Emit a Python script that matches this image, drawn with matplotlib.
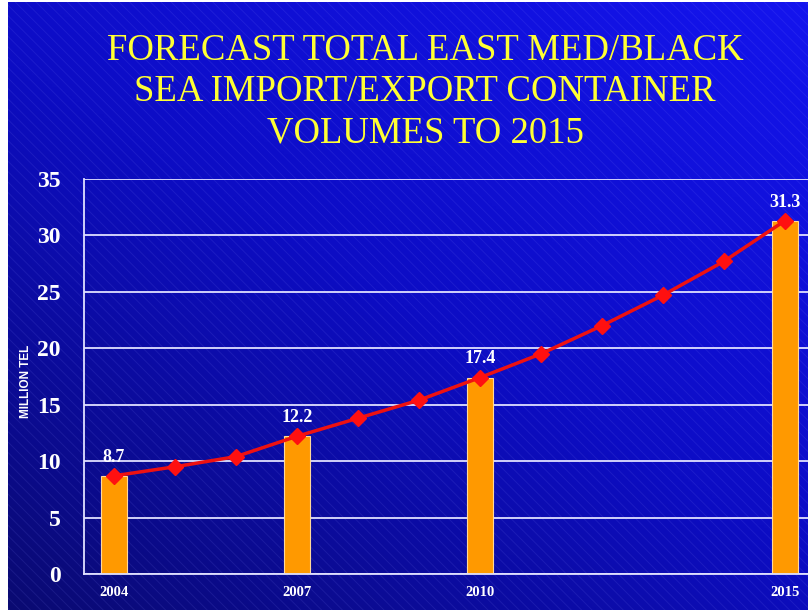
import numpy as np
import matplotlib
matplotlib.use('Agg')
import matplotlib.pyplot as plt
from matplotlib.colors import LinearSegmentedColormap

# dados
anos = [2004, 2005, 2006, 2007, 2008, 2009, 2010, 2011, 2012, 2013, 2014, 2015]
valores_linha = [8.7, 9.5, 10.4, 12.2, 13.8, 15.4, 17.4, 19.5, 22.0, 24.7, 27.7, 31.3]
anos_barras = [2004, 2007, 2010, 2015]
valores_barras = [8.7, 12.2, 17.4, 31.3]
rotulos_barras = ['8.7', '12.2', '17.4', '31.3']
titulo = 'FORECAST TOTAL EAST MED/BLACK\nSEA IMPORT/EXPORT CONTAINER\nVOLUMES TO 2015'

serif = ['Liberation Serif', 'DejaVu Serif']

fig = plt.figure(figsize=(8.08, 6.10), dpi=100)
fig.patch.set_facecolor('white')

# fundo azul com gradiente e listras diagonais
bg = fig.add_axes([8 / 808, 0, 1 - 8 / 808, 1 - 2 / 610])
bg.set_axis_off()
yy, xx = np.mgrid[0:1:200j, 0:1:200j]
grad = 0.55 * (1 - yy) + 0.45 * xx
cmap = LinearSegmentedColormap.from_list('azul', ['#0a0a72', '#0d0dc4', '#1414ee'])
bg.imshow(grad, cmap=cmap, extent=[0, 1, 0, 1], aspect='auto', origin='upper')
for k in np.arange(-1.2, 1.2, 0.013):
    bg.plot([k, k + 1.3], [1, 1 - 1.3 * 800 / 608], color='#8c8cff', alpha=0.12, lw=0.7)
bg.set_xlim(0, 1)
bg.set_ylim(0, 1)

fig.text(0.526, 0.849, titulo, ha='center', va='center', color='#ffff33',
         fontsize=26.5, family=serif, linespacing=1.24)

ax = fig.add_axes([84 / 808, 36 / 610, 1 - 84 / 808, 395 / 610])
ax.patch.set_alpha(0)
ax.set_xlim(2003.51, 2015.38)
ax.set_ylim(0, 35)
ax.set_yticks(range(0, 36, 5))
ax.set_xticks(anos_barras)
ax.grid(axis='y', color='#e0e0ff', lw=1.3)
ax.set_axisbelow(True)
for s in ['top', 'right']:
    ax.spines[s].set_visible(False)
for s in ['left', 'bottom']:
    ax.spines[s].set_color('#e0e0ff')
    ax.spines[s].set_linewidth(1.3)
ax.tick_params(length=0, colors='white')
for lbl in ax.get_yticklabels():
    lbl.set_fontsize(17)
    lbl.set_fontweight('bold')
    lbl.set_family(serif)
ax.tick_params(axis='y', pad=17)
for lbl in ax.get_xticklabels():
    lbl.set_fontsize(10.5)
    lbl.set_fontweight('bold')
    lbl.set_family(serif)
ax.tick_params(axis='x', pad=9)

ax.bar(anos_barras, valores_barras, width=0.42, color='#ff9900', edgecolor='#ffd89a', lw=0.8, zorder=2)
ax.plot(anos, valores_linha, color='#ee1111', lw=2.5, marker='D', markersize=8,
        markerfacecolor='#ff1010', markeredgecolor='#ff1010', zorder=3)
for x, v, t in zip(anos_barras, valores_barras, rotulos_barras):
    ax.text(x, v + 0.9, t, ha='center', va='bottom', color='white', fontsize=13,
            fontweight='bold', family=serif)

fig.text(26 / 808, 1 - 381 / 610, 'MILLION TEL', rotation=90, ha='center', va='center',
         color='white', fontsize=8.5, fontweight='bold', family=['Liberation Sans', 'DejaVu Sans'])

fig.savefig('out.png', dpi=100)
